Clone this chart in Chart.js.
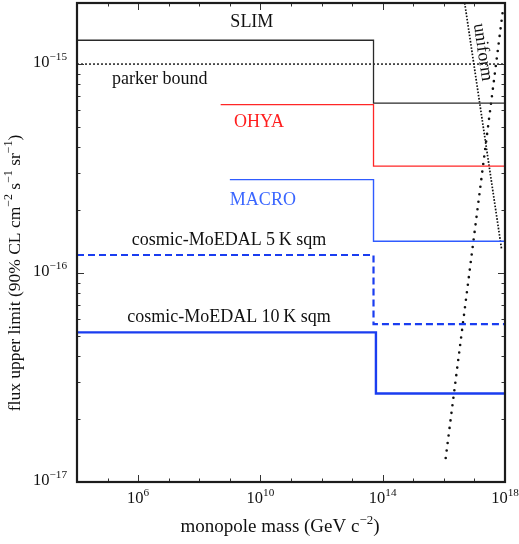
<!DOCTYPE html>
<html><head><meta charset="utf-8">
<script src="https://cdn.jsdelivr.net/npm/chart.js@4.4.0/dist/chart.umd.min.js"></script>
<style>html,body{margin:0;padding:0;background:#fff;}#wrap{width:519px;height:544px;position:relative;}</style>
</head><body><div id="wrap"><canvas id="c"></canvas></div>
<script>
// ---- data ----
const massTicks = [1e6, 1e10, 1e14, 1e18];
const fluxTicks = [1e-17, 1e-16, 1e-15];
const massRange = [1e4, 1e18];
const fluxRange = [1e-17, 1.96e-15];

const slimMass = [1e4, 5e13, 1e18];
const slimFlux = [1.3e-15, 6.5e-16, 6.5e-16];
const parkerMass = [1e4, 1e18];
const parkerFlux = [1e-15, 1e-15];
const ohyaMass = [5e8, 5e13, 1e18];
const ohyaFlux = [6.4e-16, 3.25e-16, 3.25e-16];
const macroMass = [1e9, 5e13, 1e18];
const macroFlux = [2.8e-16, 1.42e-16, 1.42e-16];
const moedal5Mass = [1e4, 5e13, 1e18];
const moedal5Flux = [1.22e-16, 5.7e-17, 5.7e-17];
const moedal10Mass = [1e4, 6e13, 1e18];
const moedal10Flux = [5.2e-17, 2.65e-17, 2.65e-17];
const uniformAMass = [4.8e16, 7.8e17];
const uniformAFlux = [1.96e-15, 1.29e-16];
const uniformBMass = [8.3e17, 1.07e16];
const uniformBFlux = [1.75e-15, 1.2e-17];

const labelTexts = ['SLIM', 'parker bound', 'OHYA', 'MACRO', 'cosmic-MoEDAL 5\u2009K sqm', 'cosmic-MoEDAL 10\u2009K sqm', 'uniform'];
const xTitleParts = [['monopole mass (GeV c', 0], ['\u22122', 1], [')', 0]];
const yTitleParts = [['flux upper limit (90% CL cm', 0], ['\u22122', 1], [' s', 0], ['\u22121', 1], [' sr', 0], ['\u22121', 1], [')', 0]];

// ---- helpers ----
const SERIF = '"Liberation Serif", "Times New Roman", "DejaVu Serif", serif';
const pts = (xs, ys) => xs.map((x, i) => ({x: x, y: ys[i]}));
const expParts = v => [['10', 0], [String(Math.round(Math.log10(v))).replace('-', '\u2212'), 1]];

// draw text parts with superscripts; align: 'left' | 'center' | 'right'
function drawParts(ctx, parts, x, y, size, align, color) {
  const supSize = size * 0.68, raise = size * 0.36;
  const fonts = parts.map(p => (p[1] ? supSize : size) + 'px ' + SERIF);
  let widths = parts.map((p, i) => { ctx.font = fonts[i]; return ctx.measureText(p[0]).width; });
  const total = widths.reduce((a, b) => a + b, 0);
  let cx = align === 'center' ? x - total / 2 : align === 'right' ? x - total : x;
  ctx.fillStyle = color;
  ctx.textAlign = 'left';
  ctx.textBaseline = 'middle';
  parts.forEach((p, i) => {
    ctx.font = fonts[i];
    ctx.fillText(p[0], cx, p[1] ? y - raise : y);
    cx += widths[i];
  });
}

const annotations = [
  {i:0, x:10**9.72,  y:1.59e-15, color:'#111111'},
  {i:1, x:10**6.71,  y:8.5e-16,  color:'#111111'},
  {i:2, x:10**9.95,  y:5.27e-16, color:'#ff1f1f'},
  {i:3, x:10**10.08, y:2.23e-16, color:'#3a66ff'},
  {i:4, x:10**8.97,  y:1.44e-16, color:'#111111'},
  {i:5, x:10**8.97,  y:6.15e-17, color:'#111111'},
  {i:6, x:10**17.27, y:1.14e-15, color:'#111111', rot:81.5}
];

const framePlugin = {
  id: 'frame',
  afterDatasetsDraw(chart) {
    const {ctx, chartArea: a, scales: {x, y}} = chart;
    ctx.save();
    ctx.strokeStyle = '#333';
    ctx.lineWidth = 1;
    // x ticks (bottom and top), inward
    const lx0 = Math.round(Math.log10(massRange[0])), lx1 = Math.round(Math.log10(massRange[1]));
    for (let e = lx0 + 1; e <= lx1; e++) {
      const v = 10 ** e;
      const px = Math.round(x.getPixelForValue(v)) + 0.5;
      const len = massTicks.includes(v) ? 7 : 3.5;
      ctx.beginPath();
      ctx.moveTo(px, a.bottom); ctx.lineTo(px, a.bottom - len);
      ctx.moveTo(px, a.top); ctx.lineTo(px, a.top + len);
      ctx.stroke();
    }
    // y ticks (left and right), inward
    for (let e = -17; e <= -15; e++) {
      for (let m = 1; m <= 9; m++) {
        const v = m * 10 ** e;
        if (v < fluxRange[0] * 0.999 || v > fluxRange[1]) continue;
        const py = Math.round(y.getPixelForValue(v)) + 0.5;
        const len = m === 1 ? 7 : 3.5;
        ctx.beginPath();
        ctx.moveTo(a.left, py); ctx.lineTo(a.left + len, py);
        ctx.moveTo(a.right, py); ctx.lineTo(a.right - len, py);
        ctx.stroke();
      }
    }
    // frame
    ctx.strokeStyle = '#1c1c1c';
    ctx.lineWidth = 2.2;
    ctx.strokeRect(a.left, a.top, a.right - a.left, a.bottom - a.top);

    // tick labels
    massTicks.forEach(v => drawParts(ctx, expParts(v), x.getPixelForValue(v), a.bottom + 17, 16.5, 'center', '#111'));
    fluxTicks.forEach(v => drawParts(ctx, expParts(v), a.left - 10, y.getPixelForValue(v) - 1, 16.5, 'right', '#111'));

    // axis titles
    drawParts(ctx, xTitleParts, 280, a.bottom + 45, 19, 'center', '#111');
    ctx.save();
    ctx.translate(15, 273);
    ctx.rotate(-Math.PI / 2);
    drawParts(ctx, yTitleParts, 0, 0, 17.5, 'center', '#111');
    ctx.restore();

    // text labels
    ctx.font = '18px ' + SERIF;
    ctx.textAlign = 'center';
    ctx.textBaseline = 'middle';
    annotations.forEach(an => {
      const px = x.getPixelForValue(an.x), py = y.getPixelForValue(an.y);
      ctx.fillStyle = an.color;
      ctx.save();
      ctx.translate(px, py);
      if (an.rot) ctx.rotate(an.rot * Math.PI / 180);
      ctx.fillText(labelTexts[an.i], 0, 0);
      ctx.restore();
    });
    ctx.restore();
  }
};

const base = {pointRadius: 0, pointHoverRadius: 0, fill: false, tension: 0};
new Chart(document.getElementById('c'), {
  type: 'line',
  data: {
    datasets: [
      Object.assign({label: 'SLIM', data: pts(slimMass, slimFlux), borderColor: '#2a2a2a', borderWidth: 1.3, stepped: true}, base),
      Object.assign({label: 'parker bound', data: pts(parkerMass, parkerFlux), borderColor: '#111', borderWidth: 1.4, borderDash: [2, 2]}, base),
      Object.assign({label: 'OHYA', data: pts(ohyaMass, ohyaFlux), borderColor: '#ff2626', borderWidth: 1.3, stepped: true}, base),
      Object.assign({label: 'MACRO', data: pts(macroMass, macroFlux), borderColor: '#2f5bff', borderWidth: 1.4, stepped: true}, base),
      Object.assign({label: 'cosmic-MoEDAL 5 K sqm', data: pts(moedal5Mass, moedal5Flux), borderColor: '#1a3df0', borderWidth: 2.2, borderDash: [7, 4], stepped: true}, base),
      Object.assign({label: 'cosmic-MoEDAL 10 K sqm', data: pts(moedal10Mass, moedal10Flux), borderColor: '#1a3df0', borderWidth: 2.4, stepped: true}, base),
      Object.assign({label: 'uniform', data: pts(uniformAMass, uniformAFlux), borderColor: '#111', borderWidth: 1.7, borderDash: [1.6, 1.6]}, base),
      Object.assign({label: 'uniform 2', data: pts(uniformBMass, uniformBFlux), borderColor: '#111', borderWidth: 2.6, borderDash: [0, 7.6], borderCapStyle: 'round'}, base)
    ]
  },
  options: {
    responsive: true,
    maintainAspectRatio: false,
    animation: false,
    events: [],
    layout: {padding: {left: 0, right: 14, top: 3, bottom: 0}},
    plugins: {legend: {display: false}, tooltip: {enabled: false}},
    scales: {
      x: {
        type: 'logarithmic', min: massRange[0], max: massRange[1],
        grid: {display: false, drawTicks: false}, border: {display: false},
        afterBuildTicks: s => { s.ticks = massTicks.map(v => ({value: v})); },
        afterFit: s => { s.height = 62; s.paddingLeft = 0; s.paddingRight = 0; },
        ticks: {display: false}
      },
      y: {
        type: 'logarithmic', min: fluxRange[0], max: fluxRange[1],
        grid: {display: false, drawTicks: false}, border: {display: false},
        afterBuildTicks: s => { s.ticks = fluxTicks.map(v => ({value: v})); },
        afterFit: s => { s.width = 77; s.paddingTop = 0; s.paddingBottom = 0; },
        ticks: {display: false}
      }
    }
  },
  plugins: [framePlugin]
});
</script></body></html>
